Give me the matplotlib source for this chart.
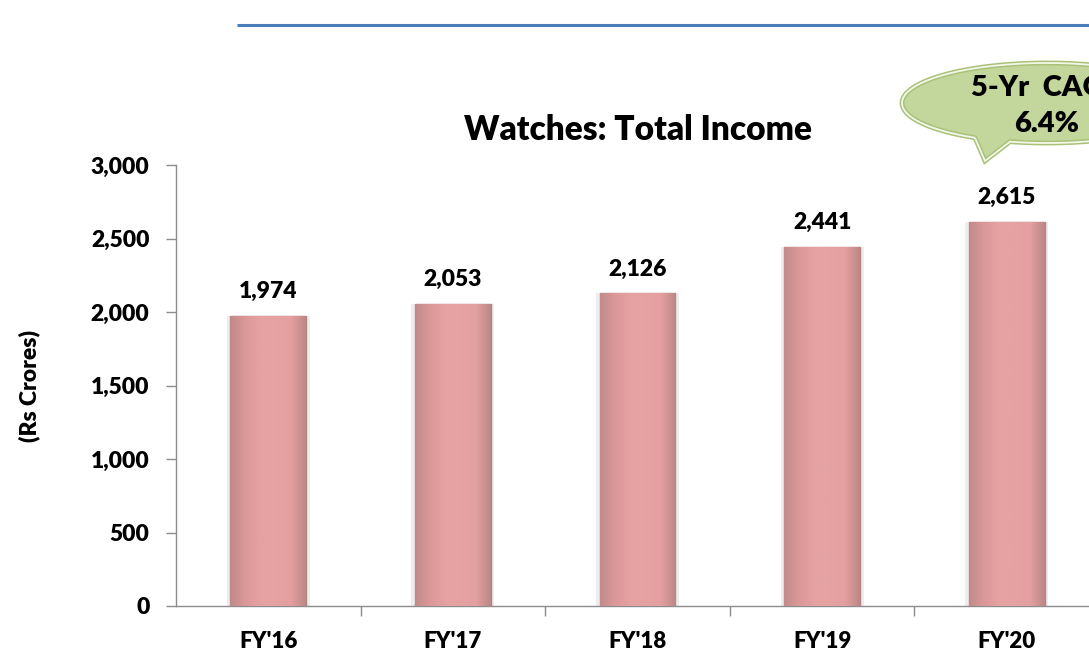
import numpy as np
import matplotlib
matplotlib.use("Agg")
import matplotlib.pyplot as plt
from matplotlib.path import Path
from matplotlib.patches import PathPatch
from matplotlib.colors import LinearSegmentedColormap

# chart data
years = ["FY'16", "FY'17", "FY'18", "FY'19", "FY'20"]
income = [1974, 2053, 2126, 2441, 2615]
yticks = [0, 500, 1000, 1500, 2000, 2500, 3000]
cagr_text = "5-Yr  CAGR\n6.4%"

plt.rcParams["font.family"] = ["Lato", "DejaVu Sans"]
plt.rcParams["font.weight"] = "heavy"
WT = "heavy"

W, H = 1089, 654
fig = plt.figure(figsize=(W / 100, H / 100), dpi=100)

# main axes placed in pixel terms (right edge runs past the figure, as in the reference)
left, right, bottom, top = 176, 1099, 606, 165
ax = fig.add_axes([left / W, (H - bottom) / H, (right - left) / W, (bottom - top) / H])

x = np.arange(len(years))
bar_w = 0.41

# soft grey glow behind bars
ax.bar(x, income, width=bar_w + 0.04, color="#ededed", zorder=1)
bars = ax.bar(x, income, width=bar_w, color="#e39d9d", edgecolor="#b58282",
              linewidth=1.0, zorder=2)

# horizontal shading to fake the bevelled look
shade = LinearSegmentedColormap.from_list(
    "shade", ["#c08a8a", "#dc9898", "#e6a2a2", "#e6a2a2", "#e4a0a0", "#bc8787"])
grad = np.linspace(0, 1, 256).reshape(1, -1)
for b in bars:
    im = ax.imshow(grad, cmap=shade, aspect="auto", zorder=3,
                   extent=[b.get_x(), b.get_x() + b.get_width(), 0, b.get_height()])
    im.set_clip_path(b)

ax.set_xlim(-0.5, len(years) - 0.5)
ax.set_ylim(0, 3000)
ax.set_yticks(yticks)
ax.set_yticklabels([f"{v:,}" for v in yticks])
ax.set_xticks(x)
ax.set_xticklabels(years)
ax.set_xticks(np.arange(len(years)) + 0.5, minor=True)

for s in ["top", "right"]:
    ax.spines[s].set_visible(False)
for s in ["left", "bottom"]:
    ax.spines[s].set_color("#8c8c8c")
    ax.spines[s].set_linewidth(1.0)

ax.tick_params(axis="y", length=7, width=1, color="#8c8c8c", pad=12, labelsize=16.5)
ax.tick_params(axis="x", which="major", length=0, pad=18, labelsize=16)
ax.tick_params(axis="x", which="minor", length=7, width=1, color="#8c8c8c")

for xi, v in zip(x, income):
    ax.annotate(f"{v:,}", (xi, v), xytext=(0, 13), textcoords="offset points",
                ha="center", va="baseline", fontsize=16.5, fontweight=WT)

ax.set_title("Watches: Total Income", fontsize=24, fontweight=WT, pad=18)

fig.text(29 / W, 1 - 386 / H, "(Rs Crores)", rotation=90, ha="center", va="center",
         fontsize=16.5, fontweight=WT)

# overlay in pixel coordinates for the decorations
ov = fig.add_axes([0, 0, 1, 1], zorder=5)
ov.set_xlim(0, W)
ov.set_ylim(H, 0)
ov.axis("off")
ov.patch.set_alpha(0)

ov.plot([237, W], [25, 25], color="#4a7ebb", linewidth=2.2, solid_capstyle="butt")

# speech bubble
cx, cy, a, bb = 1047, 103, 145, 40
t = np.radians(np.linspace(119.8, 464.8, 300))
pts = list(zip(cx + a * np.cos(t), cy + bb * np.sin(t)))
pts.append((985, 161))
pts.append(pts[0])
codes = [Path.MOVETO] + [Path.LINETO] * (len(pts) - 2) + [Path.CLOSEPOLY]
bubble = Path(pts, codes)
ov.add_patch(PathPatch(bubble, facecolor="#c3d69b", edgecolor="#a9c278", linewidth=3.5))
ov.add_patch(PathPatch(bubble, facecolor="none", edgecolor="#f3f7ea", linewidth=1.3))
ov.text(cx, 106, cagr_text, ha="center", va="center", fontsize=21,
        fontweight=WT, linespacing=1.45)

fig.savefig("out.png", dpi=100)
